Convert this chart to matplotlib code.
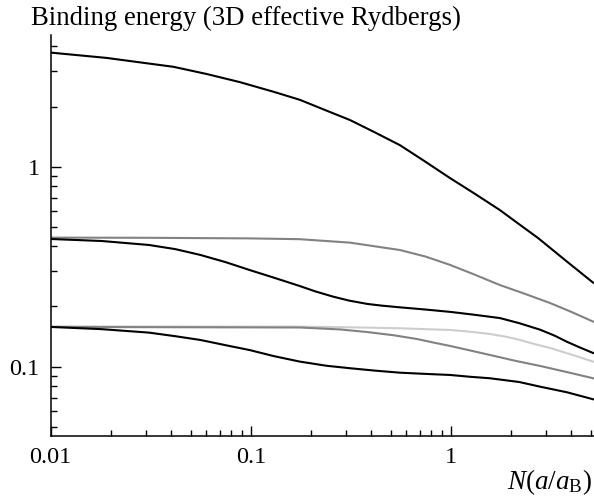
import matplotlib
matplotlib.use('Agg')
import matplotlib.pyplot as plt
from matplotlib.ticker import NullFormatter, LogLocator

plt.rcParams['font.family'] = 'Liberation Serif'
plt.rcParams['mathtext.fontset'] = 'custom'
plt.rcParams['mathtext.rm'] = 'Liberation Serif'
plt.rcParams['mathtext.it'] = 'Liberation Serif:italic'

# curve values (x = N(a/aB), y = binding energy)
x_top = [0.01, 0.019, 0.027, 0.041, 0.06, 0.088, 0.13, 0.176, 0.24, 0.314, 0.42,
         0.558, 0.75, 0.99, 1.3, 1.76, 2.2, 2.73, 3.8, 5.15]
y_top = [3.72, 3.50, 3.34, 3.16, 2.91, 2.65, 2.37, 2.16, 1.905, 1.71, 1.48,
         1.28, 1.056, 0.878, 0.739, 0.607, 0.515, 0.440, 0.336, 0.263]

x_g1 = [0.01, 0.031, 0.099, 0.176, 0.314, 0.558, 0.75, 0.99, 1.3, 1.76, 2.3, 3.14, 4.0, 5.15]
y_g1 = [0.442, 0.441, 0.438, 0.434, 0.417, 0.383, 0.355, 0.323, 0.29, 0.256, 0.233, 0.208, 0.188, 0.168]

x_b2 = [0.01, 0.018, 0.031, 0.042, 0.056, 0.075, 0.099, 0.13, 0.176, 0.21, 0.258, 0.31,
        0.382, 0.45, 0.558, 0.75, 0.99, 1.3, 1.76, 2.2, 2.80, 3.3, 3.82, 4.4, 5.15]
y_b2 = [0.435, 0.425, 0.406, 0.387, 0.362, 0.333, 0.304, 0.279, 0.253, 0.238, 0.224, 0.214,
        0.206, 0.202, 0.198, 0.193, 0.188, 0.182, 0.175, 0.165, 0.153, 0.143, 0.133, 0.125, 0.117]

x_g3 = [0.01, 0.176, 0.3, 0.558, 0.75, 0.99, 1.25, 1.57, 1.9, 2.22, 2.6, 3.14, 4.0, 5.15]
y_g3 = [0.159, 0.1585, 0.1575, 0.1556, 0.154, 0.1526, 0.1495, 0.1457, 0.141, 0.136, 0.130,
        0.124, 0.115, 0.106]

x_g2 = [0.01, 0.176, 0.28, 0.382, 0.52, 0.678, 0.82, 0.99, 1.25, 1.57, 2.1, 2.80, 3.8, 5.15]
y_g2 = [0.158, 0.157, 0.1535, 0.149, 0.1435, 0.1375, 0.132, 0.127, 0.1205, 0.1144, 0.107,
        0.1008, 0.094, 0.0875]

x_b3 = [0.01, 0.018, 0.031, 0.042, 0.056, 0.075, 0.099, 0.13, 0.176, 0.24, 0.314, 0.42,
        0.558, 0.75, 0.99, 1.25, 1.57, 2.2, 2.80, 3.8, 5.15]
y_b3 = [0.158, 0.154, 0.148, 0.142, 0.136, 0.128, 0.121, 0.113, 0.106, 0.101, 0.0982, 0.0955,
        0.0933, 0.092, 0.0909, 0.089, 0.0875, 0.0838, 0.0794, 0.0745, 0.0687]

series = [
    (x_g3, y_g3, '#cdcdcd'),
    (x_g2, y_g2, '#828282'),
    (x_g1, y_g1, '#828282'),
    (x_b3, y_b3, 'black'),
    (x_b2, y_b2, 'black'),
    (x_top, y_top, 'black'),
]

fig = plt.figure(figsize=(5.94, 4.99), dpi=100)
ax = fig.add_axes([0.0854, 0.127, 0.9146, 0.803])
for xs, ys, c in series:
    ax.plot(xs, ys, color=c, lw=1.5, solid_joinstyle='round')

ax.set_xscale('log')
ax.set_yscale('log')
ax.set_xlim(0.01, 5.2)
ax.set_ylim(0.0452, 4.56)

for s in ['top', 'right']:
    ax.spines[s].set_visible(False)
for s in ['left', 'bottom']:
    ax.spines[s].set_linewidth(1.1)

ax.set_xticks([0.01, 0.1, 1])
ax.set_xticklabels(['0.01', '0.1', '1'])
ax.set_yticks([0.1, 1])
ax.set_yticklabels(['0.1', '1'])
ax.xaxis.set_minor_locator(LogLocator(base=10, subs=range(2, 10)))
ax.yaxis.set_minor_locator(LogLocator(base=10, subs=range(2, 10)))
ax.xaxis.set_minor_formatter(NullFormatter())
ax.yaxis.set_minor_formatter(NullFormatter())
ax.tick_params(which='major', direction='in', length=7, width=1.0, labelsize=17.5, pad=8)
ax.tick_params(which='minor', direction='in', length=4, width=1.0)

fig.text(0.0517, 0.95, 'Binding energy (3D effective Rydbergs)', fontsize=19.3,
         ha='left', va='baseline')
fig.text(0.997, 0.02, r'$N(a/a_\mathrm{B})$', fontsize=19.5, ha='right', va='baseline')

fig.savefig('out.png', dpi=100)
